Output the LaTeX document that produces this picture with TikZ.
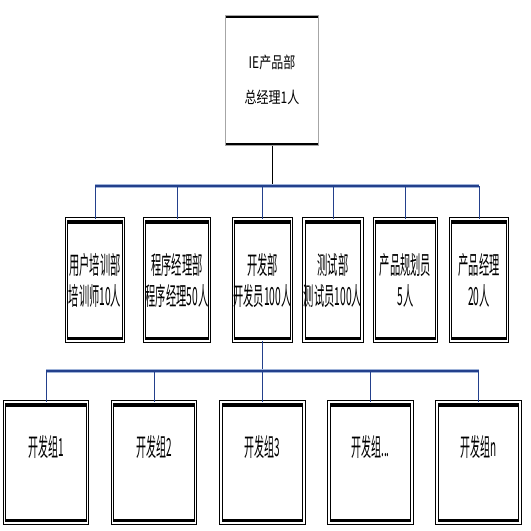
\documentclass[tikz,border=0pt]{standalone}
\usepackage{fontspec}
\setmainfont{Noto Sans CJK SC}
\usepackage{graphicx}
\usetikzlibrary{calc,positioning}
\newcommand{\condense}[2]{\scalebox{#1}[1]{#2}}
\definecolor{BusNavy}{HTML}{23408C}
\definecolor{BusHalo}{HTML}{9FB3D9}
\tikzset{
    topbox/.style = {draw=gray!70, line width=1pt, rectangle,
        minimum width=93pt, minimum height=130pt, align=center,
        font=\fontsize{16}{35}\selectfont,
        path picture={
            \fill (path picture bounding box.north west) rectangle ([yshift=-2.5pt]path picture bounding box.north east);
            \fill (path picture bounding box.south west) rectangle ([yshift=2.5pt]path picture bounding box.south east);}},
    unitbox/.style = {draw=black, line width=0.9pt, double=white, double distance=1.6pt, rectangle,
        path picture={
            \fill ([yshift=-0.2pt]path picture bounding box.north west) rectangle ([yshift=-4.5pt]path picture bounding box.north east);
            \fill ([yshift=0.2pt]path picture bounding box.south west) rectangle ([yshift=4.5pt]path picture bounding box.south east);}},
    deptbox/.style = {unitbox, minimum height=122pt, inner xsep=0pt, align=center,
        font=\fontsize{25}{31}\selectfont},
    groupbox/.style = {unitbox, minimum width=83pt, inner ysep=0pt,
        text height=54pt, text depth=67pt, align=center,
        font=\fontsize{25}{28}\selectfont},
    trunk/.style = {draw, black, line width=1pt},
    bus/.style = {draw, BusNavy, line width=1.8pt, preaction={draw, BusHalo, line width=4pt}},
    drop/.style = {draw, BusNavy, line width=0.9pt}
}
\begin{document}
\begin{tikzpicture}[x=1pt,y=-1pt]
    \useasboundingbox (0,0) rectangle (531,531);
    % head office
    \node [topbox] (head) at (272,80) {\condense{0.75}{IE产品部}\\\condense{0.75}{总经理1人}};
    % departments
    \node [deptbox, minimum width=57pt] (train) at (95,280) {\condense{0.41}{用户培训部}\\\condense{0.41}{培训师10人}};
    \node [deptbox, minimum width=65pt] (pm) at (177,280) {\condense{0.41}{程序经理部}\\\condense{0.41}{程序经理50人}};
    \node [deptbox, minimum width=56pt] (dev) at (262.5,280) {\condense{0.41}{开发部}\\\condense{0.41}{开发员100人}};
    \node [deptbox, minimum width=57pt] (test) at (333,280) {\condense{0.41}{测试部}\\\condense{0.41}{测试员100人}};
    \node [deptbox, minimum width=62pt] (plan) at (405.5,280) {\condense{0.41}{产品规划员}\\\condense{0.41}{5人}};
    \node [deptbox, minimum width=57pt] (prod) at (479,280) {\condense{0.41}{产品经理}\\\condense{0.41}{20人}};
    % development groups
    \node [groupbox] (g1) at (46,462.5) {\condense{0.4}{开发组1}};
    \node [groupbox] (g2) at (154,462.5) {\condense{0.4}{开发组2}};
    \node [groupbox] (g3) at (262.5,462.5) {\condense{0.4}{开发组3}};
    \node [groupbox] (g4) at (370.5,462.5) {\condense{0.4}{开发组...}};
    \node [groupbox] (gn) at (478.5,462.5) {\condense{0.4}{开发组n}};
    % connectors
    \coordinate (busA) at (272,186);
    \coordinate (busB) at (262.5,371);
    \draw [trunk] (head.south) -- (head.south |- busA);
    \draw [bus] (train.north |- busA) -- (prod.north |- busA);
    \foreach \d in {train,pm,dev,test,plan,prod}
        \draw [drop] (\d.north |- busA) -- (\d.north);
    \draw [drop] (dev.south) -- (busB);
    \draw [bus] (g1.north |- busB) -- (gn.north |- busB);
    \foreach \g in {g1,g2,g3,g4,gn}
        \draw [drop] (\g.north |- busB) -- (\g.north);
\end{tikzpicture}
\end{document}
